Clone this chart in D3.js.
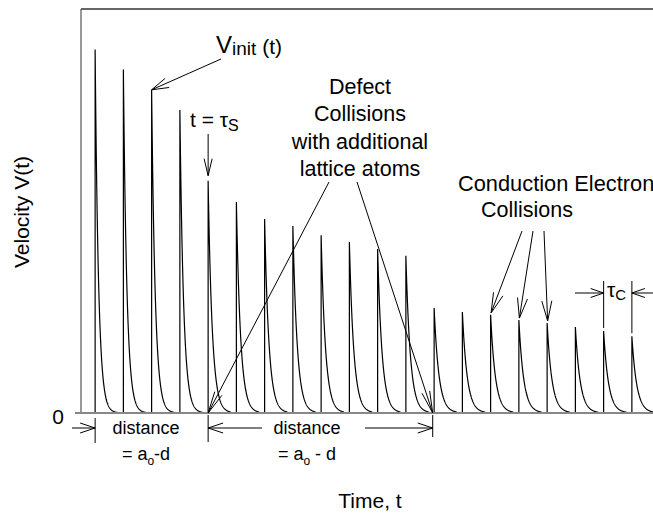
<!DOCTYPE html>
<html>
<head>
<meta charset="utf-8">
<script src="https://cdn.jsdelivr.net/npm/d3@7"></script>
<style>
  html, body { margin: 0; padding: 0; background: #fff; }
  svg { display: block; }
  text { font-family: "Liberation Sans", Arial, Helvetica, sans-serif; fill: #000; }
</style>
</head>
<body>
<svg id="chart"></svg>
<script>
const width = 653;
const height = 513;

// pulse start times (in units of the electron collision period)
const pulseTimes = [0.5, 1.5, 2.5, 3.5, 4.5, 5.5, 6.5, 7.5, 8.5, 9.5,
                    10.5, 11.5, 12.5, 13.5, 14.5, 15.5, 16.5, 17.5, 18.5, 19.5];
// peak velocity of each pulse (arbitrary units)
const pulsePeaks = [9.0, 8.5, 8.0, 7.5, 5.75, 5.22, 4.8, 4.63, 4.4, 4.23,
                    4.06, 3.89, 2.6, 2.5, 2.43, 2.3, 2.23, 2.13, 2.03, 1.9];
// decay constant of each pulse
const pulseTau = [0.12, 0.124, 0.128, 0.131, 0.145, 0.149, 0.152, 0.154, 0.155, 0.157,
                  0.158, 0.16, 0.17, 0.17, 0.171, 0.172, 0.173, 0.173, 0.174, 0.175];
const decaySteps = d3.range(0, 0.81, 0.005);

const initIndex = 2;              // pulse marked V_init(t)
const tauSIndex = 4;              // pulse marked t = tau_S
const defectTimes = [4.5, 12.45]; // defect collisions
const conductionIndex = [14, 15, 16];
const tauCIndex = [18, 19];
const defectLines = ["Defect", "Collisions", "with additional", "lattice atoms"];

const svg = d3.select('#chart')
    .attr('width', width)
    .attr('height', height);

const x = d3.scaleLinear().domain([0, 20]).range([81, 646]);
const y = d3.scaleLinear().domain([0, 10]).range([413, 9]);

// frame
svg.append('line')
    .attr('x1', x(0)).attr('x2', width)
    .attr('y1', y(10)).attr('y2', y(10))
    .attr('stroke', '#333').attr('stroke-width', 1.5);
svg.append('line')
    .attr('x1', x(0)).attr('x2', x(0))
    .attr('y1', y(10)).attr('y2', y(0))
    .attr('stroke', '#555').attr('stroke-width', 1.2);

// pulses
const line = d3.line().x(d => x(d[0])).y(d => y(d[1]));
const pulses = pulseTimes.map((t, i) => {
    const v = pulsePeaks[i];
    const pts = [[t, 0], [t, v]];
    decaySteps.forEach(dt => pts.push([t + dt, v * Math.exp(-dt / pulseTau[i])]));
    return pts;
});
svg.append('g')
    .selectAll('path')
    .data(pulses)
    .enter().append('path')
    .attr('d', line)
    .attr('fill', 'none')
    .attr('stroke', '#000')
    .attr('stroke-width', 1.2)
    .attr('stroke-linejoin', 'bevel');

// time axis
svg.append('line')
    .attr('x1', 75).attr('x2', width)
    .attr('y1', y(0)).attr('y2', y(0))
    .attr('stroke', '#888').attr('stroke-width', 2);

svg.append('text')
    .attr('x', 58).attr('y', 424)
    .attr('text-anchor', 'middle')
    .attr('font-size', 21)
    .text('0');

svg.append('text')
    .attr('transform', 'translate(29,212) rotate(-90)')
    .attr('text-anchor', 'middle')
    .attr('font-size', 21)
    .text('Velocity V(t)');

svg.append('text')
    .attr('x', 370).attr('y', 508)
    .attr('text-anchor', 'middle')
    .attr('font-size', 21)
    .text('Time, t');

// arrow helper: open V head at (x2, y2)
const ann = svg.append('g').attr('stroke', '#000').attr('fill', 'none').attr('stroke-width', 1);
function arrow(x1, y1, x2, y2, len, half) {
    ann.append('line')
        .attr('x1', x1).attr('y1', y1).attr('x2', x2).attr('y2', y2);
    const a = Math.atan2(y2 - y1, x2 - x1);
    const bx = x2 - len * Math.cos(a), by = y2 - len * Math.sin(a);
    const sx = half * Math.sin(a), sy = half * Math.cos(a);
    ann.append('path')
        .attr('d', `M${bx + sx},${by - sy}L${x2},${y2}L${bx - sx},${by + sy}`);
}
function vtick(xp, y1, y2) {
    ann.append('line').attr('x1', xp).attr('x2', xp).attr('y1', y1).attr('y2', y2);
}

// V_init(t)
const vinit = svg.append('text').attr('x', 216).attr('y', 53);
vinit.append('tspan').attr('font-size', 24).text('V');
vinit.append('tspan').attr('font-size', 19).attr('dy', 2).text('init');
vinit.append('tspan').attr('font-size', 21).attr('dy', -1).text(' (t)');
arrow(221, 59, x(pulseTimes[initIndex]), y(pulsePeaks[initIndex]), 17, 5);

// t = tau_S
const ts = svg.append('text').attr('x', 190).attr('y', 127);
ts.append('tspan').attr('font-size', 21).text('t = τ');
ts.append('tspan').attr('font-size', 16).attr('dy', 4).text('S');
arrow(x(pulseTimes[tauSIndex]), 134, x(pulseTimes[tauSIndex]), y(pulsePeaks[tauSIndex]) - 5, 17, 4);

// defect collisions
svg.append('g')
    .selectAll('text')
    .data(defectLines)
    .enter().append('text')
    .attr('x', 360)
    .attr('y', (d, i) => 94 + i * 27.3)
    .attr('text-anchor', 'middle')
    .attr('font-size', 21.5)
    .text(d => d);
arrow(329, 182, x(defectTimes[0]), y(0), 22, 4);
arrow(357, 182, x(defectTimes[1]), y(0), 22, 4);

// conduction electron collisions
svg.append('text')
    .attr('x', 458).attr('y', 191)
    .attr('font-size', 21.8)
    .text('Conduction Electron');
svg.append('text')
    .attr('x', 527).attr('y', 217)
    .attr('text-anchor', 'middle')
    .attr('font-size', 21.5)
    .text('Collisions');
const startX = [522, 533, 544];
conductionIndex.forEach((k, i) => {
    arrow(startX[i], 231, x(pulseTimes[k]) + 0.5, y(pulsePeaks[k]) - 2, 20, 5);
});

// tau_C
tauCIndex.forEach(k => vtick(x(pulseTimes[k]), 281, y(pulsePeaks[k]) - 3));
arrow(575, 293, x(pulseTimes[tauCIndex[0]]), 293, 13, 4.5);
arrow(width + 2, 293, x(pulseTimes[tauCIndex[1]]), 293, 13, 4.5);
const tc = svg.append('text').attr('x', 607).attr('y', 297);
tc.append('tspan').attr('font-size', 21).text('τ');
tc.append('tspan').attr('font-size', 15).attr('dy', 3).text('C');

// distance markers
const distY = 428;
vtick(x(pulseTimes[0]), 418, 443);
arrow(72, distY, x(pulseTimes[0]), distY, 15, 5);
vtick(x(defectTimes[0]), 415, 442);
arrow(262, distY, x(defectTimes[0]), distY, 15, 5);
vtick(x(defectTimes[1]), 415, 437);
arrow(365, distY, x(defectTimes[1]), distY, 15, 5);

const distCenters = [146, 307];
distCenters.forEach((cx, i) => {
    svg.append('text')
        .attr('x', cx).attr('y', 434)
        .attr('text-anchor', 'middle')
        .attr('font-size', 18)
        .text('distance');
    const eq = svg.append('text')
        .attr('x', cx).attr('y', 460)
        .attr('text-anchor', 'middle')
        .attr('font-size', 18);
    eq.append('tspan').text('= a');
    eq.append('tspan').attr('font-size', 12).attr('dy', 5).text('o');
    eq.append('tspan').attr('dy', -5).text(i === 0 ? '-d' : ' - d');
});
</script>
</body>
</html>
